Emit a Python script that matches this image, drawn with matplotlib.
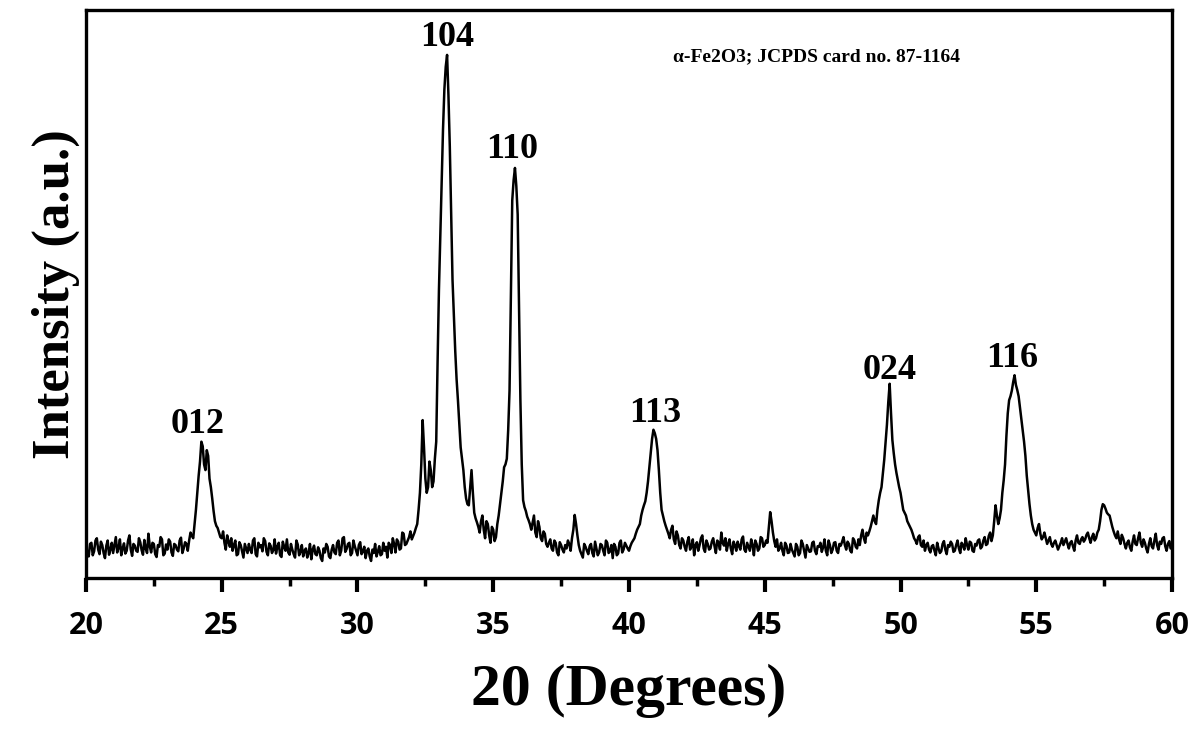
import numpy as np
import matplotlib.pyplot as plt

# XRD trace. intensity: 20.0 .. 60.0 deg every 0.1 deg,
# intensity_mid: the in-between points 20.05 .. 59.95 deg. One row per degree.
intensity = [
    55, 38, 62, 47, 70, 42, 58, 35, 66, 50,
    44, 72, 53, 40, 61, 48, 75, 39, 57, 46,
    63, 41, 52, 78, 45, 60, 37, 55, 68, 43,
    50, 64, 39, 58, 47, 71, 52, 60, 66, 74,
    95, 150, 205, 232, 190, 215, 160, 118, 92, 80,
    70, 62, 75, 55, 48, 66, 42, 58, 36, 52,
    60, 44, 70, 38, 54, 47, 65, 40, 57, 49,
    43, 62, 37, 55, 68, 41, 50, 36, 59, 46,
    38, 52, 44, 33, 57, 40, 48, 30, 45, 55,
    35, 58, 42, 66, 48, 72, 51, 62, 44, 56,
    40, 63, 47, 35, 52, 30, 44, 38, 56, 42,
    48, 36, 58, 70, 45, 64, 52, 78, 60, 72,
    68, 80, 95, 150, 278, 175, 160, 190, 170, 240,
    507, 700, 860, 921, 760, 525, 400, 313, 230, 190,
    140, 128, 190, 115, 98, 80, 110, 70, 95, 62,
    85, 72, 110, 150, 195, 210, 330, 665, 722, 640,
    313, 137, 118, 102, 85, 110, 72, 90, 65, 78,
    55, 68, 48, 62, 40, 58, 45, 52, 60, 70,
    111, 75, 48, 36, 55, 42, 60, 38, 52, 45,
    58, 40, 62, 47, 35, 55, 43, 66, 50, 57,
    48, 62, 70, 85, 95, 120, 135, 170, 220, 261,
    245, 190, 120, 100, 85, 70, 92, 60, 75, 52,
    66, 48, 72, 55, 40, 63, 58, 75, 46, 60,
    52, 70, 44, 62, 80, 57, 48, 68, 42, 58,
    64, 50, 73, 46, 55, 68, 40, 60, 52, 70,
    58, 62, 116, 80, 55, 48, 62, 40, 57, 45,
    50, 38, 55, 44, 60, 36, 52, 47, 64, 42,
    55, 46, 68, 40, 58, 50, 63, 44, 57, 72,
    50, 60, 45, 66, 52, 58, 85, 62, 75, 90,
    110, 95, 137, 160, 208, 270, 342, 243, 200, 172,
    150, 120, 110, 95, 85, 70, 60, 75, 55, 48,
    62, 45, 58, 40, 52, 47, 65, 42, 55, 60,
    48, 66, 44, 58, 70, 50, 62, 46, 57, 68,
    55, 72, 60, 80, 75, 128, 95, 120, 172, 250,
    313, 330, 357, 331, 300, 261, 215, 155, 110, 85,
    75, 95, 68, 80, 60, 72, 55, 66, 50, 62,
    58, 70, 52, 65, 48, 75, 60, 72, 68, 80,
    62, 78, 70, 85, 120, 128, 115, 110, 90, 75,
    82, 60, 70, 52, 66, 48, 75, 58, 80, 55,
    62, 45, 70, 52, 78, 50, 60, 72, 48, 65,
    55,
]
intensity_mid = [
    46, 60, 40, 66, 50, 64, 44, 57, 41, 62,
    58, 45, 68, 52, 43, 66, 50, 60, 48, 70,
    49, 67, 44, 56, 62, 42, 58, 72, 40, 59,
    68, 45, 60, 50, 66, 44, 63, 48, 80, 70,
    120, 180, 240, 200, 225, 175, 140, 100, 88, 72,
    82, 50, 64, 70, 58, 40, 63, 47, 60, 44,
    50, 66, 42, 62, 58, 70, 46, 61, 44, 68,
    55, 40, 64, 48, 45, 60, 42, 66, 40, 58,
    48, 36, 60, 50, 42, 54, 35, 52, 60, 38,
    50, 45, 62, 40, 70, 46, 60, 40, 66, 48,
    58, 42, 55, 48, 38, 50, 60, 46, 40, 62,
    55, 62, 44, 60, 68, 50, 80, 58, 66, 82,
    74, 88, 120, 200, 230, 150, 205, 160, 210, 380,
    600, 790, 900, 850, 640, 460, 350, 270, 210, 160,
    130, 160, 150, 105, 90, 100, 85, 100, 75, 90,
    65, 95, 130, 170, 200, 260, 500, 700, 690, 480,
    200, 125, 108, 95, 98, 80, 100, 70, 82, 60,
    62, 52, 66, 45, 63, 50, 58, 66, 48, 85,
    95, 58, 42, 60, 48, 56, 44, 64, 40, 60,
    48, 66, 44, 58, 60, 40, 62, 45, 62, 52,
    56, 66, 78, 90, 110, 128, 150, 195, 245, 255,
    225, 150, 110, 92, 78, 85, 68, 82, 58, 70,
    55, 64, 50, 68, 58, 48, 70, 52, 66, 50,
    64, 56, 66, 50, 62, 70, 60, 52, 64, 48,
    56, 68, 50, 62, 48, 58, 66, 48, 72, 55,
    66, 90, 100, 65, 68, 52, 48, 62, 44, 60,
    44, 60, 40, 66, 48, 58, 46, 62, 48, 56,
    62, 54, 48, 66, 44, 62, 48, 60, 64, 58,
    64, 48, 70, 55, 68, 75, 70, 80, 82, 100,
    100, 120, 150, 185, 240, 310, 290, 220, 185, 160,
    135, 115, 100, 90, 78, 66, 72, 58, 66, 58,
    50, 56, 48, 62, 44, 60, 50, 58, 64, 46,
    58, 52, 62, 50, 58, 64, 48, 60, 66, 52,
    66, 58, 74, 65, 100, 110, 105, 150, 200, 290,
    320, 345, 340, 320, 280, 240, 180, 130, 95, 80,
    88, 78, 72, 70, 66, 60, 62, 58, 56, 70,
    64, 60, 62, 56, 66, 62, 68, 64, 76, 70,
    72, 66, 80, 100, 130, 122, 112, 100, 82, 70,
    68, 76, 60, 62, 54, 64, 60, 70, 62, 68,
    52, 60, 56, 66, 58, 64, 70, 56, 60, 52,
]

# (hkl) labels and where they sit
hkl = ["012", "104", "110", "113", "024", "116"]
hkl_x = [24.1, 33.3, 35.7, 40.95, 49.6, 54.1]
hkl_y = [270, 952, 754, 290, 366, 387]

xticks = [20, 25, 30, 35, 40, 45, 50, 55, 60]

x_main = np.round(np.arange(20.0, 60.05, 0.1), 2)
x_mid = x_main[:-1] + 0.05
xs = np.concatenate([x_main, x_mid])
ys = np.concatenate([intensity, intensity_mid])
order = np.argsort(xs)
xs, ys = xs[order], ys[order]

fig = plt.figure(figsize=(11.94, 7.38), dpi=100)
ax = fig.add_axes([0.072, 0.2168, 0.9096, 0.7696])

ax.plot(xs, ys, color="black", lw=1.8)

ax.set_xlim(20, 60)
ax.set_ylim(0, 1000)
ax.set_xticks(xticks)
ax.set_xticks(np.arange(22.5, 60, 5), minor=True)
ax.set_yticks([])
ax.tick_params(axis="x", which="major", direction="out", length=10, width=3, pad=14)
ax.tick_params(axis="x", which="minor", direction="out", length=6, width=2.5)
for lab in ax.get_xticklabels():
    lab.set_fontfamily("Open Sans")
    lab.set_fontweight("bold")
    lab.set_fontsize(22)
for sp in ax.spines.values():
    sp.set_linewidth(2.4)

serif = "Liberation Serif"
for t, x, y in zip(hkl, hkl_x, hkl_y):
    ax.text(x, y, t, ha="center", va="center", family=serif,
            fontweight="bold", fontsize=26)

ax.text(46.9, 917, "α-Fe2O3; JCPDS card no. 87-1164", ha="center", va="center",
        family=serif, fontweight="bold", fontsize=14)

ax.set_xlabel("20 (Degrees)", family=serif, fontweight="bold", fontsize=43, labelpad=16)
ax.set_ylabel("Intensity (a.u.)", family=serif, fontweight="bold", fontsize=38, labelpad=4)

fig.savefig("out.png", dpi=100)
